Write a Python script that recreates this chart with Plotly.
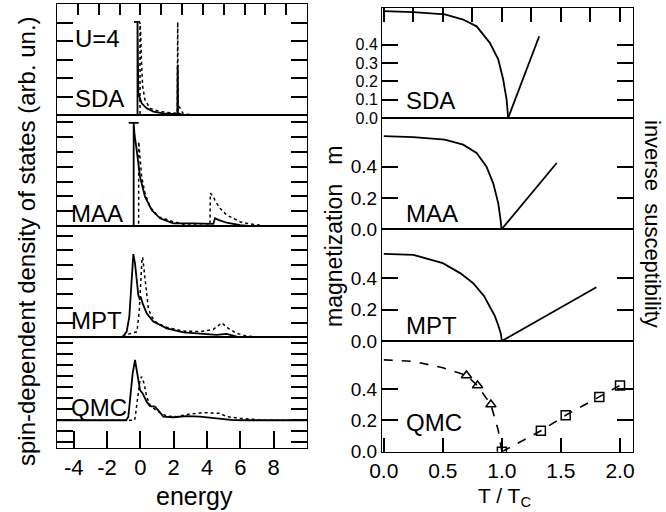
import plotly.graph_objects as go

# ---------------- data: left column, spin-dependent DOS (arb. units) ----------------
sda_up_E = [-5, -0.17, -0.17, -0.14, -0.12, 0.08, 0.38, 0.78, 1.38, 2.18, 2.22, 2.24, 2.26, 2.5, 10]
sda_up_D = [0, 0, 5.03, 3.0, 1.17, 0.63, 0.36, 0.18, 0.09, 0.05, 0.05, 2.7, 0.1, 0.02, 0]
sda_cap_E = [-0.38, -0.02]
sda_cap_D = [5.03, 5.03]
sda_dn_E = [-5, -0.02, -0.02, 0.02, 0.08, 0.14, 0.28, 0.58, 1.18, 2.18, 2.22, 2.24, 2.27, 2.4, 2.55, 3.0, 10]
sda_dn_D = [0, 0, 5.03, 4.43, 2.61, 1.53, 0.81, 0.36, 0.18, 0.09, 0.09, 5.03, 0.5, 0.35, 0.1, 0, 0]
maa_up_E = [-5, -0.4, -0.4, -0.35, -0.22, -0.02, 0.28, 0.68, 1.18, 1.98, 3.18, 4.28, 4.38, 4.48, 4.68, 5.18, 6.0, 6.5, 10]
maa_up_D = [0, 0, 6.97, 6.2, 5.14, 3.33, 1.98, 1.08, 0.52, 0.18, 0.18, 0.14, 0.14, 0.52, 0.41, 0.22, 0.05, 0, 0]
maa_cap_E = [-0.7, -0.1]
maa_cap_D = [6.97, 6.97]
maa_dn_E = [-5, -0.1, -0.1, -0.02, 0.08, 0.28, 0.58, 1.08, 1.98, 2.78, 4.18, 4.2, 4.38, 4.52, 4.78, 5.18, 5.58, 5.98, 6.38, 7.0, 7.5, 10]
maa_dn_D = [0, 0, 5.7, 4.68, 3.33, 2.21, 1.3, 0.63, 0.29, 0.07, 0.05, 2.21, 1.98, 1.64, 1.2, 0.74, 0.52, 0.29, 0.18, 0.07, 0, 0]
mpt_up_E = [-5, -1.1, -1.02, -0.82, -0.66, -0.56, -0.46, -0.42, -0.32, -0.22, -0.12, -0.04, 0.04, 0.14, 0.38, 0.78, 1.58, 2.58, 3.58, 4.58, 5.18, 5.78, 6.5, 10]
mpt_up_D = [0, 0, 0.07, 0.37, 1.4, 3.24, 5.08, 5.72, 5.08, 3.7, 2.9, 2.62, 2.7, 2.32, 1.63, 1.06, 0.6, 0.32, 0.21, 0.14, 0.21, 0.02, 0, 0]
mpt_dn_E = [-5, -1.0, -0.7, -0.4, -0.2, -0.06, 0.02, 0.1, 0.14, 0.22, 0.34, 0.48, 0.68, 0.98, 1.58, 2.58, 3.58, 4.38, 4.88, 5.28, 5.78, 6.38, 7.0, 10]
mpt_dn_D = [0, 0, 0.2, 0.3, 0.37, 1.86, 4.16, 5.43, 5.5, 4.62, 3.24, 1.98, 1.4, 0.99, 0.67, 0.41, 0.37, 0.53, 0.97, 0.6, 0.25, 0.07, 0, 0]
qmc_up_E = [-5, -0.85, -0.72, -0.58, -0.46, -0.32, -0.22, -0.12, -0.02, 0.14, 0.38, 0.58, 0.88, 1.14, 1.38, 1.98, 2.78, 3.58, 4.58, 5.58, 6.5, 10]
qmc_up_D = [0, 0, 0.32, 2.42, 4.23, 5.43, 4.53, 3.33, 2.73, 2.42, 1.67, 1.28, 1.22, 0.77, 0.32, 0.27, 0.38, 0.32, 0.17, 0.02, 0, 0]
qmc_dn_E = [-5, -0.35, -0.32, -0.22, -0.12, -0.02, 0.08, 0.22, 0.38, 0.58, 0.88, 1.18, 1.58, 2.18, 2.98, 3.78, 4.78, 5.18, 5.98, 7.18, 8.0, 10]
qmc_dn_D = [0, 0, 0.17, 1.22, 2.73, 3.63, 3.93, 3.33, 2.12, 1.37, 0.98, 0.68, 0.38, 0.32, 0.56, 0.68, 0.62, 0.32, 0.17, 0.02, 0, 0]

# ---------------- data: right column, magnetization and inverse susceptibility ----------------
sda_T = [0, 0.25, 0.517, 0.672, 0.786, 0.898, 0.969, 1.011, 1.04, 1.053]
sda_m = [0.583, 0.578, 0.565, 0.537, 0.50, 0.41, 0.32, 0.21, 0.10, 0.0]
sda_chiT = [1.053, 1.316]
sda_chi = [0.0, 0.446]
maa_T = [0, 0.25, 0.517, 0.672, 0.786, 0.87, 0.926, 0.969, 0.989, 0.997]
maa_m = [0.594, 0.588, 0.572, 0.54, 0.487, 0.40, 0.295, 0.167, 0.06, 0.0]
maa_chiT = [0.997, 1.464]
maa_chi = [0.0, 0.423]
mpt_T = [0, 0.25, 0.5, 0.65, 0.757, 0.85, 0.898, 0.94, 0.969, 0.99, 1.0]
mpt_m = [0.554, 0.548, 0.495, 0.43, 0.367, 0.285, 0.218, 0.16, 0.10, 0.05, 0.0]
mpt_chiT = [1.0, 1.80]
mpt_chi = [0.0, 0.342]
qmc_T = [0, 0.25, 0.5, 0.70, 0.794, 0.907, 0.969, 0.989, 1.0]
qmc_m = [0.585, 0.575, 0.535, 0.487, 0.42, 0.30, 0.137, 0.053, 0.0]
qmc_tri_T = [0.70, 0.794, 0.907]
qmc_tri_m = [0.485, 0.422, 0.30]
qmc_sq_T = [1.0, 1.33, 1.54, 1.825, 2.0]
qmc_sq_chi = [0.0, 0.133, 0.232, 0.348, 0.422]

left_x_ticks = [-4, -2, 0, 2, 4, 6, 8]
left_x_text = ['-4', '-2', '0', '2', '4', '6', '8']
right_x_ticks = [0, 0.5, 1.0, 1.5, 2.0]
right_x_text = ['0.0', '0.5', '1.0', '1.5', '2.0']

W, H = 666, 512
FONT = "Liberation Sans"
BLACK = "black"

fig = go.Figure()

def px_x(x0, x1):
    return [x0 / W, x1 / W]

def px_y(top, bot):
    return [1 - bot / H, 1 - top / H]

LX = px_x(57, 307)
RX = px_x(382, 633)
LEFT_XR = [-5, 10]
RIGHT_XR = [-0.015, 2.11]
left_rows = [(4, 115), (115, 226), (226, 337), (337, 448)]
right_rows = [(8, 118), (118, 229.3), (229.3, 341), (341, 451.7)]
left_yranges = [[0, 6], [0, 7.5], [0, 7.66], [-2.5, 7.5]]
right_yranges = [[0, 0.6], [0, 0.71], [0, 0.71], [0, 0.705]]

solid = dict(color=BLACK, width=1.8)
dotted = dict(color=BLACK, width=1.5, dash="dot")
dashed = dict(color=BLACK, width=1.6, dash="dash")

def add(x, y, ax, line=None, mode="lines", marker=None):
    xa = "x" if ax == 1 else f"x{ax}"
    ya = "y" if ax == 1 else f"y{ax}"
    kw = dict(x=x, y=y, xaxis=xa, yaxis=ya, mode=mode, showlegend=False)
    if line is not None:
        kw["line"] = line
    if marker is not None:
        kw["marker"] = marker
    fig.add_trace(go.Scatter(**kw))

add(sda_dn_E, sda_dn_D, 1, dotted)
add(sda_up_E, sda_up_D, 1, solid)
add(sda_cap_E, sda_cap_D, 1, solid)
add(maa_dn_E, maa_dn_D, 2, dotted)
add(maa_up_E, maa_up_D, 2, solid)
add(maa_cap_E, maa_cap_D, 2, solid)
add(mpt_dn_E, mpt_dn_D, 3, dotted)
add(mpt_up_E, mpt_up_D, 3, solid)
add(qmc_dn_E, qmc_dn_D, 4, dotted)
add(qmc_up_E, qmc_up_D, 4, solid)

add(sda_T, sda_m, 5, solid)
add(sda_chiT, sda_chi, 5, solid)
add(maa_T, maa_m, 6, solid)
add(maa_chiT, maa_chi, 6, solid)
add(mpt_T, mpt_m, 7, solid)
add(mpt_chiT, mpt_chi, 7, solid)
add(qmc_T, qmc_m, 8, dashed)
add(qmc_sq_T, qmc_sq_chi, 8, dashed)
add(qmc_tri_T, qmc_tri_m, 8, mode="markers",
    marker=dict(symbol="triangle-up-open", size=9, color=BLACK, line=dict(width=1.5, color=BLACK)))
add(qmc_sq_T, qmc_sq_chi, 8, mode="markers",
    marker=dict(symbol="square-open", size=9, color=BLACK, line=dict(width=1.5, color=BLACK)))

layout = dict(width=W, height=H, margin=dict(l=0, r=0, t=0, b=0), template="none", showlegend=False)

# left column: minimal axis settings
for i, (top, bot) in enumerate(left_rows):
    n = i + 1
    xk = "xaxis" if n == 1 else f"xaxis{n}"
    yk = "yaxis" if n == 1 else f"yaxis{n}"
    ya = "y" if n == 1 else f"y{n}"
    xa = "x" if n == 1 else f"x{n}"
    xd = dict(domain=LX, anchor=ya, range=LEFT_XR, showline=True, linecolor=BLACK, mirror=True,
              showticklabels=False, showgrid=False, zeroline=False)
    if n == 1:
        xd.update(side="top", ticks="inside", ticklen=11, tickwidth=2, tickcolor=BLACK,
                  tick0=-5, dtick=1.25)
    if n == 4:
        xd.update(ticks="inside", ticklen=17, tickwidth=2, tickcolor=BLACK,
                  tickvals=left_x_ticks, ticktext=left_x_text, showticklabels=True,
                  tickfont=dict(size=22, family=FONT, color=BLACK))
    layout[xk] = xd
    layout[yk] = dict(domain=px_y(top, bot), anchor=xa, range=left_yranges[i],
                      showline=True, linecolor=BLACK, mirror="ticks", ticks="inside",
                      ticklen=16, tickwidth=2, tickcolor=BLACK, dtick=1,
                      showticklabels=False, showgrid=False, zeroline=False)

# right column axes
for i, (top, bot) in enumerate(right_rows):
    n = i + 5
    xk, yk = f"xaxis{n}", f"yaxis{n}"
    xa, ya = f"x{n}", f"y{n}"
    xd = dict(domain=RX, anchor=ya, range=RIGHT_XR, showline=True, linecolor=BLACK, mirror=True,
              showticklabels=False, showgrid=False, zeroline=False)
    if n == 5:
        xd.update(side="top", ticks="inside", ticklen=14, tickwidth=2, tickcolor=BLACK,
                  tick0=0, dtick=0.25)
    if n == 8:
        xd.update(ticks="inside", ticklen=14, tickwidth=2, tickcolor=BLACK,
                  tickvals=right_x_ticks, ticktext=right_x_text, showticklabels=True,
                  tickfont=dict(size=21, family=FONT, color=BLACK))
    layout[xk] = xd
    if n == 5:
        yd = dict(tickvals=[0, 0.1, 0.2, 0.3, 0.4], ticktext=["0.0", "0.1", "0.2", "0.3", "0.4"],
                  tickfont=dict(size=16, family=FONT, color=BLACK))
    else:
        yd = dict(tickvals=[0, 0.2, 0.4], ticktext=["0.0", "0.2", "0.4"],
                  tickfont=dict(size=19, family=FONT, color=BLACK))
    layout[yk] = dict(domain=px_y(top, bot), anchor=xa, range=right_yranges[i],
                      showline=True, linecolor=BLACK, mirror="ticks", ticks="inside",
                      ticklen=16, tickwidth=2, tickcolor=BLACK,
                      showticklabels=True, showgrid=False, zeroline=False, **yd)

def ann(text, xp, yp, size, xanchor="center", angle=0):
    return dict(text=text, x=xp / W, y=1 - yp / H, xref="paper", yref="paper",
                xanchor=xanchor, yanchor="middle", showarrow=False, textangle=angle,
                font=dict(size=size, family=FONT, color=BLACK))

layout["annotations"] = [
    ann("U=4", 73, 38, 24, "left"),
    ann("SDA", 73, 98, 24, "left"),
    ann("MAA", 69, 213, 24, "left"),
    ann("MPT", 69, 320, 24, "left"),
    ann("QMC", 69, 407, 24, "left"),
    ann("SDA", 404, 100, 24, "left"),
    ann("MAA", 404, 213, 24, "left"),
    ann("MPT", 404, 325, 24, "left"),
    ann("QMC", 404, 422, 24, "left"),
    ann("spin-dependent density of states (arb. un.)", 26, 241, 24, angle=-90),
    ann("energy", 194, 496, 25),
    ann("magnetization   m", 334, 236, 23, angle=-90),
    ann("inverse  susceptibility", 653, 224, 22, angle=90),
    ann("T / T<sub>C</sub>", 504, 497, 21),
]

fig.update_layout(**layout)
fig.write_html("out.html")
